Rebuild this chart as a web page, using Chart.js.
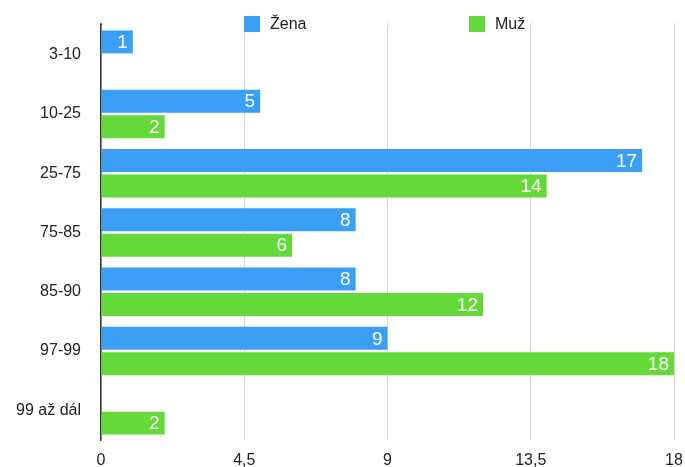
<!DOCTYPE html>
<html>
<head>
<meta charset="utf-8">
<script src="https://cdn.jsdelivr.net/npm/chart.js@4"></script>
<style>
  html, body { margin: 0; padding: 0; background: #fff; }
  #wrap { width: 685px; height: 467px; position: relative; }
</style>
</head>
<body>
<div id="wrap"><canvas id="ageChart"></canvas></div>
<script>
// Age groups and counts per gender
const ageGroups = ['3-10', '10-25', '25-75', '75-85', '85-90', '97-99', '99 až dál'];
const zenaCounts = [1, 5, 17, 8, 8, 9, null];
const muzCounts = [null, 2, 14, 6, 12, 18, 2];
const xTicks = [0, 4.5, 9, 13.5, 18];

const BLUE = '#3A9FF5';
const GREEN = '#65D83A';
const FONT = '"Liberation Sans", Arial, Helvetica, sans-serif';

// Value labels drawn inside the end of each bar
const barValuePlugin = {
    id: 'barValues',
    afterDatasetsDraw(chart) {
        const ctx = chart.ctx;
        ctx.save();
        ctx.font = '19px ' + FONT;
        ctx.fillStyle = '#fff';
        ctx.textAlign = 'right';
        ctx.textBaseline = 'middle';
        chart.data.datasets.forEach((ds, i) => {
            chart.getDatasetMeta(i).data.forEach((bar, j) => {
                const v = ds.data[j];
                if (v === null || v === undefined) return;
                ctx.fillText(String(v), bar.x - 5, bar.y + 1);
            });
        });
        ctx.restore();
    }
};

// Legend laid over the top of the plot area, plus the axis line reaching up to it
const topLegendPlugin = {
    id: 'topLegend',
    afterDraw(chart) {
        const ctx = chart.ctx;
        const area = chart.chartArea;
        const mid = (area.left + area.right) / 2;
        const offsets = [-143.5, 81.5];
        ctx.save();
        ctx.strokeStyle = '#d8d8d8';
        ctx.lineWidth = 1;
        chart.scales.x.ticks.forEach(t => {
            if (t.value === 0) return;
            const gx = Math.round(chart.scales.x.getPixelForValue(t.value)) + 0.5;
            ctx.beginPath();
            ctx.moveTo(gx, area.top - 2);
            ctx.lineTo(gx, area.top);
            ctx.stroke();
        });
        ctx.strokeStyle = '#333';
        ctx.lineWidth = 1.5;
        ctx.beginPath();
        ctx.moveTo(area.left, area.top - 2);
        ctx.lineTo(area.left, area.top);
        ctx.stroke();

        ctx.font = '16px ' + FONT;
        ctx.textBaseline = 'middle';
        ctx.textAlign = 'left';
        chart.data.datasets.forEach((ds, i) => {
            const x = mid + offsets[i];
            ctx.fillStyle = ds.backgroundColor;
            ctx.fillRect(x, 16, 16, 16);
            ctx.fillStyle = '#222';
            ctx.fillText(ds.label, x + 26, 24.5);
        });
        ctx.restore();
    }
};

new Chart(document.getElementById('ageChart'), {
    type: 'bar',
    data: {
        labels: ageGroups,
        datasets: [
            { label: 'Žena', data: zenaCounts, backgroundColor: BLUE },
            { label: 'Muž', data: muzCounts, backgroundColor: GREEN }
        ]
    },
    options: {
        indexAxis: 'y',
        responsive: true,
        maintainAspectRatio: false,
        animation: false,
        categoryPercentage: 0.86,
        barPercentage: 0.9,
        layout: { padding: { top: 25, right: 11, bottom: 0, left: 0 } },
        plugins: {
            legend: { display: false },
            tooltip: { enabled: false }
        },
        scales: {
            x: {
                min: 0,
                max: 18,
                afterBuildTicks: scale => {
                    scale.ticks = xTicks.map(v => ({ value: v }));
                },
                afterFit: scale => {
                    scale.height = 27;
                    scale.paddingLeft = 0;
                    scale.paddingRight = 0;
                },
                grid: { color: '#d8d8d8', lineWidth: 1, drawTicks: false },
                border: { display: false },
                ticks: {
                    padding: 11,
                    color: '#222',
                    font: { family: FONT, size: 16 },
                    callback: v => String(v).replace('.', ',')
                }
            },
            y: {
                afterFit: scale => {
                    scale.width = 101;
                    scale.paddingTop = 0;
                    scale.paddingBottom = 0;
                },
                grid: { display: false, drawTicks: false },
                border: { display: true, color: '#333', width: 1.5 },
                ticks: {
                    padding: 20,
                    color: '#222',
                    font: { family: FONT, size: 16 }
                }
            }
        }
    },
    plugins: [barValuePlugin, topLegendPlugin]
});
</script>
</body>
</html>
